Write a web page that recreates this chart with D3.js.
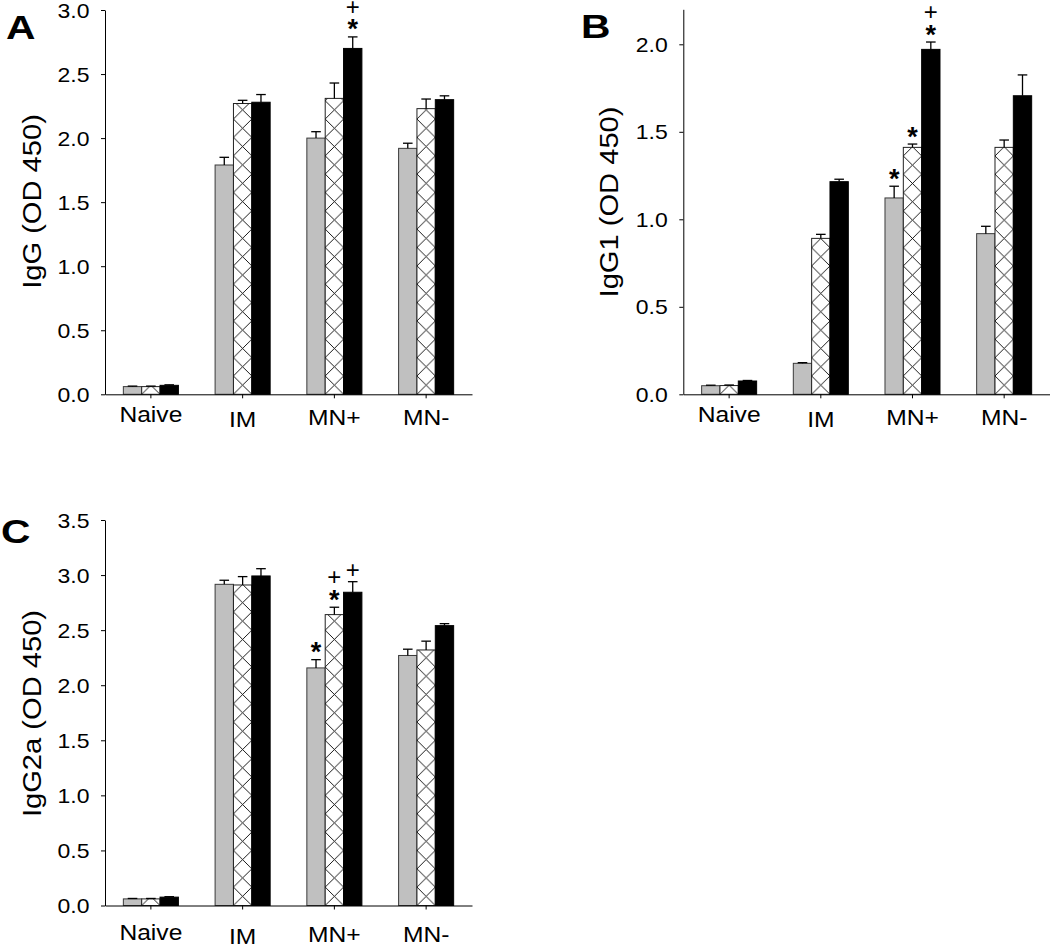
<!DOCTYPE html>
<html><head><meta charset="utf-8">
<script src="https://cdn.jsdelivr.net/npm/d3@7"></script>
<style>body{margin:0;background:#fff} svg{display:block}</style>
</head><body><svg id="chart" width="1050" height="945"></svg>
<script>
// ---------- DATA ----------
const categories = ["Naive", "IM", "MN+", "MN-"];
const seriesKeys = ["gray", "hatched", "black"];

// Panel A: IgG
const igG_gray      = [0.06, 1.79, 2.00, 1.92];
const igG_gray_se   = [0.004, 0.06, 0.05, 0.04];
const igG_hatch     = [0.06, 2.27, 2.31, 2.23];
const igG_hatch_se  = [0.004, 0.025, 0.12, 0.075];
const igG_black     = [0.07, 2.28, 2.70, 2.30];
const igG_black_se  = [0.004, 0.06, 0.09, 0.03];

// Panel B: IgG1
const igG1_gray      = [0.049, 0.177, 1.122, 0.918];
const igG1_gray_se   = [0.003, 0.004, 0.067, 0.042];
const igG1_hatch     = [0.05, 0.891, 1.411, 1.411];
const igG1_hatch_se  = [0.003, 0.023, 0.019, 0.042];
const igG1_black     = [0.076, 1.215, 1.971, 1.706];
const igG1_black_se  = [0.003, 0.014, 0.042, 0.119];

// Panel C: IgG2a
const igG2a_gray      = [0.06, 2.916, 2.157, 2.270];
const igG2a_gray_se   = [0.004, 0.037, 0.075, 0.057];
const igG2a_hatch     = [0.06, 2.91, 2.641, 2.32];
const igG2a_hatch_se  = [0.004, 0.076, 0.067, 0.08];
const igG2a_black     = [0.076, 2.992, 2.844, 2.541];
const igG2a_black_se  = [0.004, 0.066, 0.096, 0.018];

// Y tick labels
const ticksA = [0, 0.5, 1.0, 1.5, 2.0, 2.5, 3.0];
const ticksB = [0, 0.5, 1.0, 1.5, 2.0];
const ticksC = [0, 0.5, 1.0, 1.5, 2.0, 2.5, 3.0, 3.5];

// Significance marks: [category, series, symbols bottom-to-top]
const marksA = [["MN+", "black", ["*", "+"]]];
const marksB = [["MN+", "gray", ["*"]], ["MN+", "hatched", ["*"]], ["MN+", "black", ["*", "+"]]];
const marksC = [["MN+", "gray", ["*"]], ["MN+", "hatched", ["*", "+"]], ["MN+", "black", ["+"]]];

// ---------- LAYOUT / STYLE ----------
const FONT = "'Liberation Sans', Arial, Helvetica, sans-serif";
const SX = 1.15; // horizontal stretch of the original typography
const fills = {gray: "#c0c0c0", hatched: "url(#hatch-PANEL)", black: "#000"};
const strokes = {gray: "#3a3a3a", hatched: "#222", black: "#000"};

const panels = [
  {id: "A", title: "IgG (OD 450)", left: 105, right: 472, top: 10, bottom: 394.3, max: 3.0, ticks: ticksA,
   letterX: 6, letterY: 38.5, titleX: 34, titleY: 201.5, labelY: 421.7, shift: {"Naive": 0, "IM": 5.5, "MN+": 3, "MN-": 3}, marks: marksA,
   data: {gray: [igG_gray, igG_gray_se], hatched: [igG_hatch, igG_hatch_se], black: [igG_black, igG_black_se]}},
  {id: "B", title: "IgG1 (OD 450)", left: 683.3, right: 1050, top: 9.3, bottom: 394.3, max: 2.2, ticks: ticksB,
   letterX: 581, letterY: 37.5, titleX: 611, titleY: 202, labelY: 421.7, shift: {"Naive": 0, "IM": 5.5, "MN+": 3, "MN-": 3}, marks: marksB,
   data: {gray: [igG1_gray, igG1_gray_se], hatched: [igG1_hatch, igG1_hatch_se], black: [igG1_black, igG1_black_se]}},
  {id: "C", title: "IgG2a (OD 450)", left: 105, right: 472, top: 520, bottom: 905.5, max: 3.5, ticks: ticksC,
   letterX: 1, letterY: 543, titleX: 34, titleY: 713.5, labelY: 939.5, shift: {"Naive": 0, "IM": 4, "MN+": 2.5, "MN-": 2.5}, marks: marksC,
   data: {gray: [igG2a_gray, igG2a_gray_se], hatched: [igG2a_hatch, igG2a_hatch_se], black: [igG2a_black, igG2a_black_se]}}
];

const svg = d3.select("#chart");
const defs = svg.append("defs");

panels.forEach(p => {
  const g = svg.append("g").attr("class", "panel-" + p.id);
  const x = d3.scaleBand().domain(categories).range([p.left, p.right]).paddingInner(0.4).paddingOuter(0.2);
  const xs = d3.scaleBand().domain(seriesKeys).range([0, x.bandwidth()]).padding(0);
  const y = d3.scaleLinear().domain([0, p.max]).range([p.bottom, p.top]);
  const bw = xs.bandwidth();

  // hatch pattern aligned to hatched bars
  const pat = defs.append("pattern").attr("id", "hatch-" + p.id)
    .attr("patternUnits", "userSpaceOnUse")
    .attr("x", x(categories[0]) + xs("hatched")).attr("y", y(0))
    .attr("width", bw).attr("height", bw);
  pat.append("rect").attr("width", bw).attr("height", bw).attr("fill", "#fff");
  pat.append("path").attr("d", `M0,0L${bw},${bw}M${bw},0L0,${bw}`)
    .attr("stroke", "#000").attr("stroke-width", 0.9).attr("fill", "none");

  const rows = [];
  seriesKeys.forEach(s => {
    const [vals, se] = p.data[s];
    categories.forEach((c, i) => rows.push({cat: c, s, v: vals[i], e: se[i]}));
  });

  // bars
  g.selectAll("rect.bar").data(rows).join("rect").attr("class", "bar")
    .attr("x", d => x(d.cat) + xs(d.s))
    .attr("y", d => y(d.v))
    .attr("width", bw)
    .attr("height", d => y(0) - y(d.v))
    .attr("fill", d => fills[d.s].replace("PANEL", p.id))
    .attr("stroke", d => strokes[d.s])
    .attr("stroke-width", 1);

  // error bars (upper only)
  const eb = g.selectAll("g.err").data(rows).join("g").attr("class", "err")
    .attr("stroke", "#000").attr("stroke-width", 1.3);
  eb.append("line")
    .attr("x1", d => x(d.cat) + xs(d.s) + bw / 2).attr("x2", d => x(d.cat) + xs(d.s) + bw / 2)
    .attr("y1", d => y(d.v)).attr("y2", d => y(d.v + d.e));
  eb.append("line")
    .attr("x1", d => x(d.cat) + xs(d.s) + bw / 2 - 4.8).attr("x2", d => x(d.cat) + xs(d.s) + bw / 2 + 4.8)
    .attr("y1", d => y(d.v + d.e)).attr("y2", d => y(d.v + d.e));

  // y axis
  const ya = g.append("g").attr("transform", `translate(${p.left},0)`)
    .call(d3.axisLeft(y).tickValues(p.ticks).tickSize(4).tickSizeOuter(0).tickFormat(d3.format(".1f")));
  ya.select(".domain").attr("stroke", "#000").attr("stroke-width", 1);
  ya.selectAll(".tick line").attr("stroke", "#000");
  ya.selectAll(".tick text").attr("x", null).attr("dy", "0.35em")
    .attr("transform", `translate(-15.5,0) scale(${SX},1)`)
    .attr("text-anchor", "end").attr("font-family", FONT).attr("font-size", 20).attr("fill", "#000");

  // x axis
  const xa = g.append("g").attr("transform", `translate(0,${p.bottom})`)
    .call(d3.axisBottom(x).tickSize(4).tickSizeOuter(0).tickFormat(""));
  xa.select(".domain").attr("stroke", "#000").attr("stroke-width", 1);
  xa.selectAll(".tick line").attr("stroke", "#000");

  g.selectAll("text.cat").data(categories).join("text").attr("class", "cat")
    .attr("transform", c => `translate(${x(c) + x.bandwidth() / 2},${p.labelY + p.shift[c]}) scale(1.12,1)`)
    .attr("text-anchor", "middle").attr("font-family", FONT).attr("font-size", 22).text(c => c);

  // axis title
  g.append("text")
    .attr("transform", `translate(${p.titleX + 6.8},${p.titleY}) rotate(-90) scale(1.12,1)`)
    .attr("text-anchor", "middle").attr("font-family", FONT).attr("font-size", 26).text(p.title);

  // panel letter
  g.append("text")
    .attr("transform", `translate(${p.letterX},${p.letterY}) scale(1.2,1)`)
    .attr("font-family", FONT).attr("font-weight", "bold").attr("font-size", 34).text(p.id);

  // significance marks
  p.marks.forEach(([cat, s, syms]) => {
    const i = categories.indexOf(cat);
    const [vals, se] = p.data[s];
    const cx = x(cat) + xs(s) + bw / 2;
    let cy = y(vals[i] + se[i]) - 12;
    syms.forEach(sym => {
      const isStar = sym === "*";
      const fs = isStar ? 27 : 24;
      g.append("text").attr("x", cx).attr("y", cy + (isStar ? 0.5 : 0.34) * fs)
        .attr("text-anchor", "middle").attr("font-family", FONT)
        .attr("font-weight", isStar ? "bold" : "normal").attr("font-size", fs).text(sym);
      cy -= 18;
    });
  });
});
</script></body></html>
